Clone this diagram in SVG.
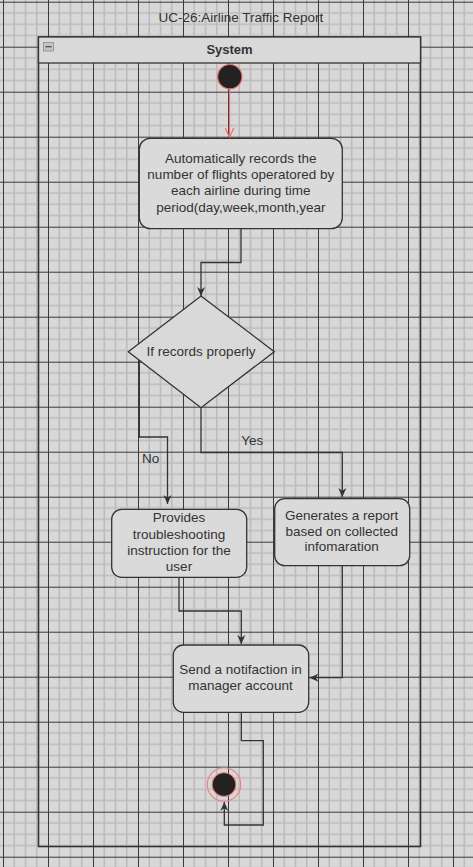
<svg xmlns="http://www.w3.org/2000/svg" width="473" height="867" viewBox="0 0 473 867">
<defs>
<pattern id="grid" patternUnits="userSpaceOnUse" x="3" y="1.7" width="45" height="45">
<rect width="45" height="45" fill="#d8d8d8"/>
<path d="M11.25,0V45M22.5,0V45M33.75,0V45M0,11.25H45M0,22.5H45M0,33.75H45" stroke="#bcbcbc" stroke-width="1.6" fill="none"/>
<path d="M0.5,0V45M0,0.5H45" stroke="#3a3a3a" stroke-width="1" fill="none"/>
</pattern>
<marker id="arr" viewBox="0 0 10 10" refX="10" refY="5" markerWidth="9" markerHeight="9" markerUnits="userSpaceOnUse" orient="auto">
<path d="M0,0.5 L10,5 L0,9.5 L3,5 Z" fill="#333"/>
</marker>
<marker id="arrRed" viewBox="0 0 10 10" refX="10" refY="5" markerWidth="10" markerHeight="10" markerUnits="userSpaceOnUse" orient="auto">
<path d="M0,0.5 L10,5 L0,9.5" fill="none" stroke="#ee7070" stroke-width="1.2"/>
</marker>
</defs>
<style>
text{font-family:"Liberation Sans",Arial,sans-serif;font-size:13.5px;fill:#333;text-anchor:middle}
.box{fill:#dadada;stroke:#333;stroke-width:1.3}
.conn{fill:none;stroke:#333;stroke-width:1.3;marker-end:url(#arr)}
</style>
<rect width="473" height="867" fill="url(#grid)"/>
<text x="240.8" y="21.7">UC-26:Airline Traffic Report</text>
<g id="pool">
<rect x="38.5" y="37" width="382" height="809.5" fill="none" stroke="#333" stroke-width="1.6"/>
<rect x="38.5" y="37" width="382" height="26" fill="#d9d9d9" stroke="#333" stroke-width="1.3"/>
<rect x="43.5" y="42.5" width="10" height="8.5" fill="#c4c4c4" stroke="#8a8a8a" stroke-width="0.8"/>
<path d="M45.5,46.7H51.5" stroke="#444" stroke-width="1.2"/>
<text x="229.5" y="53.5" style="font-weight:bold;font-size:13px">System</text>
</g>
<g id="connectors">
<path d="M229.5,89.5V137.5" fill="none" stroke="#ee7070" stroke-width="1.2" marker-end="url(#arrRed)"/>
<path class="conn" d="M241,229V262.5H201V296"/>
<path class="conn" d="M139.3,360.2V437H167.5V504"/>
<path class="conn" d="M201,408V452.5H342.3V497"/>
<path class="conn" d="M179,577.5V611H241.3V644"/>
<path class="conn" d="M342.3,566V677.7H309.5"/>
<path class="conn" d="M241.3,712.5V740.7H263.3V825H224.3V802"/>
<text x="150.7" y="462.7">No</text>
<text x="252.3" y="445">Yes</text>
</g>
<g id="start">
<circle cx="229.8" cy="76.7" r="12.2" fill="#222" stroke="#ee7070" stroke-width="1.2"/>
</g>
<g id="recordFlights">
<rect class="box" x="139.3" y="138.3" width="203" height="90.4" rx="11"/>
<text x="240.8" y="162.7">Automatically records the</text>
<text x="240.8" y="179">number of flights operatored by</text>
<text x="240.8" y="195.3">each airline during time</text>
<text x="240.8" y="211.7">period(day,week,month,year</text>
</g>
<g id="decision">
<path class="box" d="M201,296L274.3,351.7L201,407.7L128.3,351.7Z" style="fill:#d9d9d9"/>
<text x="201" y="356">If records properly</text>
</g>
<g id="troubleshoot">
<rect class="box" x="111.7" y="509.3" width="135" height="68" rx="10"/>
<text x="179" y="522.3">Provides</text>
<text x="179" y="538.7">troubleshooting</text>
<text x="179" y="555">instruction for the</text>
<text x="179" y="571.3">user</text>
</g>
<g id="generateReport">
<rect class="box" x="274.7" y="498.7" width="135" height="67" rx="10"/>
<text x="341.7" y="520">Generates a report</text>
<text x="341.7" y="535.7">based on collected</text>
<text x="341.7" y="551.3">infomaration</text>
</g>
<g id="notify">
<rect class="box" x="173.3" y="645" width="135.4" height="67.3" rx="10"/>
<text x="240.5" y="674">Send a notifaction in</text>
<text x="240.5" y="689.5">manager account</text>
</g>
<g id="end">
<circle cx="224" cy="784.5" r="16.7" fill="none" stroke="#ee8080" stroke-width="1.1"/>
<circle cx="224" cy="784.5" r="11.8" fill="#222" stroke="#ee7070" stroke-width="1.1"/>
</g>
</svg>
